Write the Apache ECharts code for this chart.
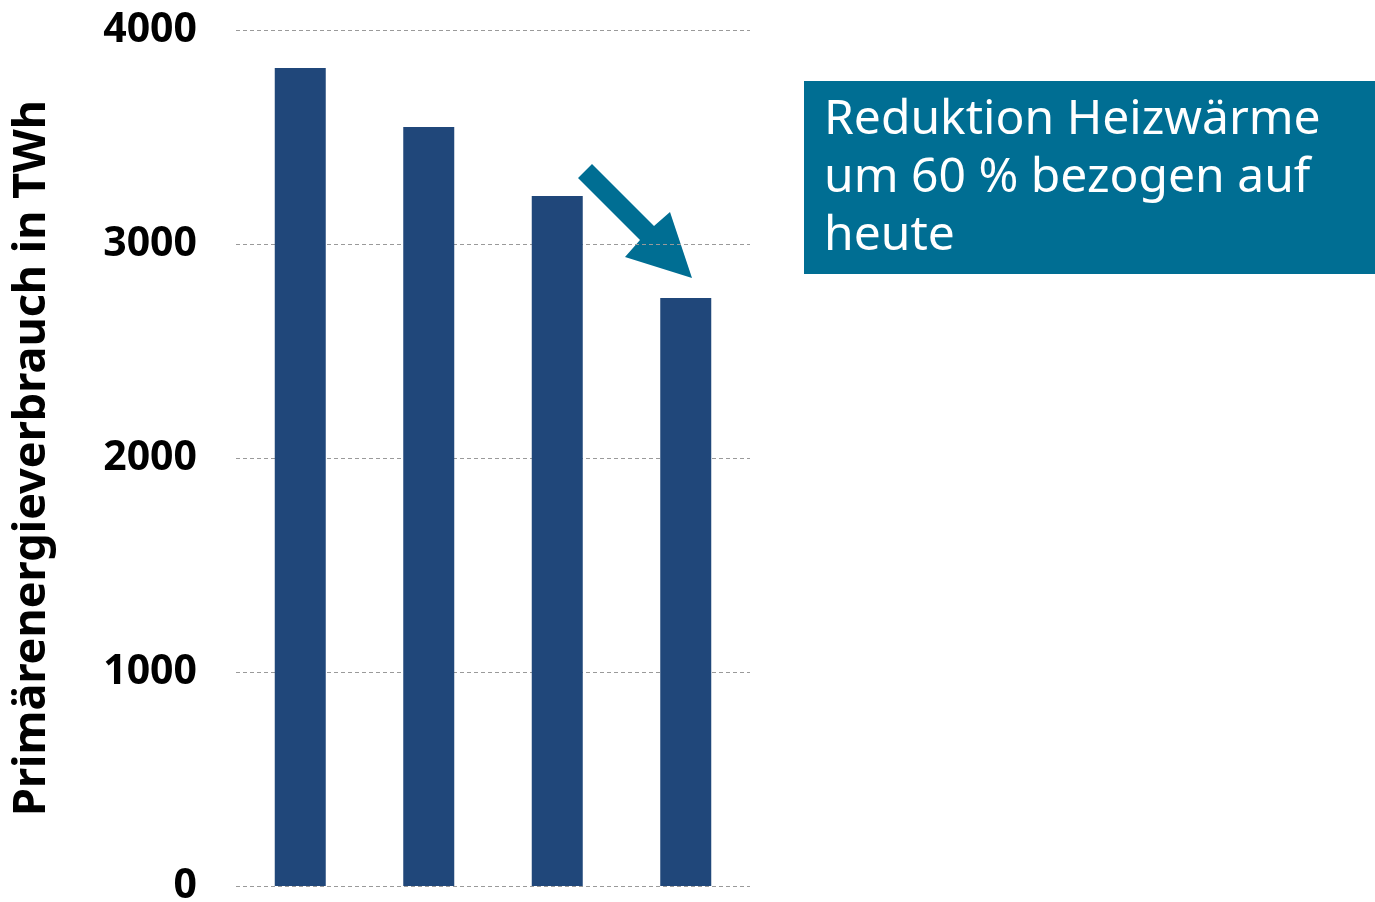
<!DOCTYPE html>
<html lang="de">
<head>
    <meta charset="UTF-8">
    <title>Primärenergieverbrauch</title>
    <style>
        html, body { margin: 0; padding: 0; background: #fff; }
    </style>
</head>
<body>
<div id="main" style="width: 1375px;height:902px;"></div>
<script src="https://cdn.jsdelivr.net/npm/echarts@6/dist/echarts.min.js"></script>
<script>

// Werte
const categories = ['1', '2', '3', '4']
const verbrauch = [3822, 3547, 3224, 2748]
const yTicks = [0, 1000, 2000, 3000, 4000]
const hinweis = ['Reduktion Heizwärme', 'um 60 % bezogen auf', 'heute']

const BAR_COLOR = '#20477a'
const BOX_COLOR = '#006e93'

let chartDom = document.getElementById('main');
let myChart = echarts.init(chartDom);
let option;

option = {
    animation: false,
    textStyle: { fontFamily: 'Noto Sans' },
    grid: {
        left: 236,
        right: 625,
        top: 30,
        bottom: 16,
        outerBoundsMode: 'none',
        containLabel: false
    },
    xAxis: {
        type: 'category',
        data: categories,
        axisLine: { show: false },
        axisTick: { show: false },
        axisLabel: { show: false }
    },
    yAxis: {
        type: 'value',
        min: yTicks[0],
        max: yTicks[yTicks.length - 1],
        interval: 1000,
        name: 'Primärenergieverbrauch in TWh',
        nameLocation: 'middle',
        nameGap: 181,
        nameTextStyle: {
            fontSize: 45,
            fontWeight: 'bold',
            color: '#000'
        },
        axisLine: { show: false },
        axisTick: { show: false },
        axisLabel: {
            margin: 39,
            fontSize: 41,
            fontWeight: 'bold',
            color: '#000',
            formatter: v => String(v)
        },
        splitLine: {
            lineStyle: { color: '#9a9a9a', type: [4, 3], width: 1 }
        }
    },
    series: [
        {
            type: 'bar',
            data: verbrauch,
            barWidth: 51,
            itemStyle: { color: BAR_COLOR }
        }
    ],
    graphic: [
        {
            type: 'polygon',
            shape: {
                points: [[592, 164], [654, 226], [670, 212], [692, 278], [625, 257], [640, 240], [578, 178]]
            },
            style: { fill: BOX_COLOR }
        },
        {
            type: 'rect',
            shape: { x: 804, y: 81, width: 571, height: 193 },
            style: { fill: BOX_COLOR }
        },
        {
            type: 'text',
            x: 824,
            y: 91,
            style: {
                text: hinweis.join('\n'),
                fill: '#fff',
                fontSize: 48,
                lineHeight: 58,
                fontFamily: 'Noto Sans'
            }
        }
    ]
}

option && myChart.setOption(option);

</script>
</body>
</html>
